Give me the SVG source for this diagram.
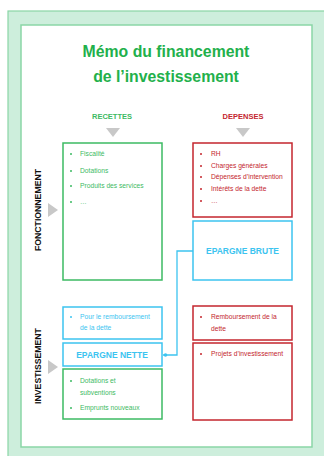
<svg xmlns="http://www.w3.org/2000/svg" width="324" height="456" viewBox="0 0 324 456">
<style>
text{font-family:"Liberation Sans",Arial,sans-serif}
.g{fill:none;stroke:#3dba63;stroke-width:1.5}
.r{fill:none;stroke:#c4262e;stroke-width:1.5}
.b{fill:#fff;stroke:#3cc4f0;stroke-width:1.5}
.tg{fill:#3dba63;font-size:6.7px}
.tr{fill:#c4262e;font-size:6.7px}
.tb{fill:#3cc4f0;font-size:6.7px}
.hb{fill:#3cc4f0;font-size:8.5px;font-weight:bold}
.side{fill:#111;font-size:8.7px;font-weight:bold}
.tri{fill:#c8c8c8}
</style>
<rect width="324" height="456" fill="#fff"/>
<g id="frame">
<rect x="8" y="11" width="330" height="460" fill="#cdeedc" stroke="#8ad6a6" stroke-width="1.2"/>
<rect x="21" y="25" width="291" height="422" fill="#fff" stroke="#8ad6a6" stroke-width="1.5"/>
</g>
<g id="title">
<text x="166" y="57" text-anchor="middle" font-size="15.8" font-weight="bold" fill="#22b04b">Mémo du financement</text>
<text x="166" y="82" text-anchor="middle" font-size="15.8" font-weight="bold" fill="#22b04b">de l’investissement</text>
</g>
<g id="headers">
<text x="112" y="119" text-anchor="middle" font-size="7.5" font-weight="bold" fill="#3dba63">RECETTES</text>
<text x="243" y="119" text-anchor="middle" font-size="7.5" font-weight="bold" fill="#c4262e">DEPENSES</text>
<polygon class="tri" points="106,128 120,128 113,137"/>
<polygon class="tri" points="236,128 250,128 243,137"/>
</g>
<g id="fonctionnement-label">
<text class="side" transform="translate(41,210) rotate(-90)" text-anchor="middle">FONCTIONNEMENT</text>
<polygon class="tri" points="48,203 58,210 48,217"/>
</g>
<g id="investissement-label">
<text class="side" transform="translate(41,366) rotate(-90)" text-anchor="middle">INVESTISSEMENT</text>
<polygon class="tri" points="48,360 58,367 48,374"/>
</g>
<g id="connectors">
<polyline points="193,251 177,251 177,355 163,355" fill="none" stroke="#3cc4f0" stroke-width="1.3"/>
<circle cx="165.5" cy="355" r="1.8" fill="#3cc4f0"/>
</g>
<g id="recettes-fonct">
<rect class="g" x="63" y="143" width="99" height="137"/>
<g class="tg">
<circle cx="71" cy="154" r="1"/><text x="80" y="156">Fiscalité</text>
<circle cx="71" cy="171" r="1"/><text x="80" y="173">Dotations</text>
<circle cx="71" cy="186" r="1"/><text x="80" y="188">Produits des services</text>
<circle cx="71" cy="202" r="1"/><text x="80" y="204">…</text>
</g>
</g>
<g id="depenses-fonct">
<rect class="r" x="193" y="143" width="99" height="74"/>
<g class="tr">
<circle cx="201" cy="154" r="1"/><text x="211" y="156">RH</text>
<circle cx="201" cy="166" r="1"/><text x="211" y="168">Charges générales</text>
<circle cx="201" cy="177" r="1"/><text x="211" y="179">Dépenses d’intervention</text>
<circle cx="201" cy="189" r="1"/><text x="211" y="191">Intérêts de la dette</text>
<circle cx="201" cy="201" r="1"/><text x="211" y="203">…</text>
</g>
</g>
<g id="epargne-brute">
<rect class="b" x="193" y="221" width="99" height="59"/>
<text class="hb" x="242.5" y="254" text-anchor="middle">EPARGNE BRUTE</text>
</g>
<g id="remboursement-recettes">
<rect class="b" x="63" y="307" width="99" height="32"/>
<g class="tb">
<circle cx="71" cy="317" r="1"/><text x="80" y="319">Pour le remboursement</text>
<text x="80" y="330">de la dette</text>
</g>
</g>
<g id="epargne-nette">
<rect class="b" x="63" y="343" width="99" height="23"/>
<text class="hb" x="112" y="357.5" text-anchor="middle">EPARGNE NETTE</text>
</g>
<g id="recettes-invest">
<rect class="g" x="63" y="369" width="99" height="50"/>
<g class="tg">
<circle cx="71" cy="381" r="1"/><text x="80" y="383">Dotations et</text>
<text x="80" y="395">subventions</text>
<circle cx="71" cy="408" r="1"/><text x="80" y="410">Emprunts nouveaux</text>
</g>
</g>
<g id="remboursement-depenses">
<rect class="r" x="193" y="306" width="99" height="34"/>
<g class="tr">
<circle cx="201" cy="317" r="1"/><text x="211" y="319">Remboursement de la</text>
<text x="211" y="331">dette</text>
</g>
</g>
<g id="projets">
<rect class="r" x="193" y="343" width="99" height="77"/>
<g class="tr">
<circle cx="201" cy="354" r="1"/><text x="211" y="356">Projets d’investissement</text>
</g>
</g>
</svg>
